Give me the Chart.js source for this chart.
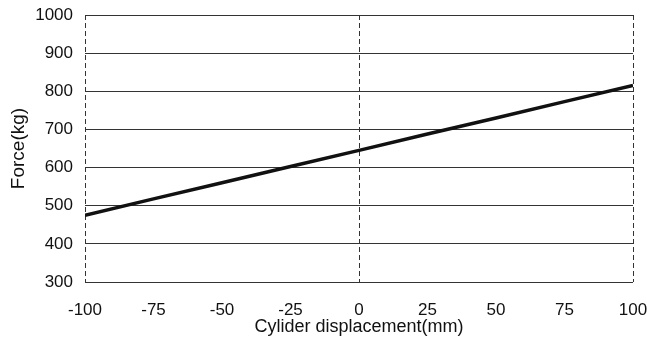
<!DOCTYPE html>
<html>
<head>
<meta charset="utf-8">
<script src="https://cdn.jsdelivr.net/npm/chart.js@4.4.1/dist/chart.umd.min.js"></script>
<style>
html,body{margin:0;padding:0;background:#fff;}
#wrap{width:647px;height:348px;position:relative;}
</style>
</head>
<body>
<div id="wrap"><canvas id="c" width="647" height="348"></canvas></div>
<script>
const displacement = [-100, -75, -50, -25, 0, 25, 50, 75, 100];
const force = [475, 518, 560, 603, 645, 688, 730, 773, 815];
const xTicks = [-100, -75, -50, -25, 0, 25, 50, 75, 100];
const yTicks = [300, 400, 500, 600, 700, 800, 900, 1000];
const xTitle = 'Cylider displacement(mm)';
const yTitle = 'Force(kg)';

const points = displacement.map((x, i) => ({x: x, y: force[i]}));

new Chart(document.getElementById('c'), {
  type: 'scatter',
  data: {
    datasets: [{
      data: points,
      showLine: true,
      borderColor: '#111',
      backgroundColor: '#111',
      borderWidth: 3.5,
      pointRadius: 0,
      tension: 0
    }]
  },
  options: {
    responsive: false,
    animation: false,
    layout: {padding: {top: 15, right: 14, bottom: 0, left: 0}},
    plugins: {legend: {display: false}, tooltip: {enabled: false}},
    scales: {
      x: {
        type: 'linear',
        min: -100, max: 100,
        afterBuildTicks: s => { s.ticks = xTicks.map(v => ({value: v})); },
        afterFit: s => { s.height = 66; s.paddingRight = 0; s.paddingLeft = 0; },
        ticks: {
          color: '#111',
          font: {family: 'Liberation Sans', size: 17},
          padding: 18,
          maxRotation: 0,
          autoSkip: false,
          callback: v => String(v)
        },
        grid: {
          drawTicks: false,
          color: c => (c.tick && (c.tick.value === 0 || c.tick.value === -100 || c.tick.value === 100)) ? '#333' : 'rgba(0,0,0,0)',
          lineWidth: 1
        },
        border: {display: false, dash: [5, 3]},
        title: {
          display: true,
          text: xTitle,
          color: '#111',
          font: {family: 'Liberation Sans', size: 18},
          padding: {top: 0, bottom: 10}
        }
      },
      y: {
        min: 300, max: 1000,
        afterBuildTicks: s => { s.ticks = yTicks.map(v => ({value: v})); },
        afterFit: s => { s.width = 85; s.paddingTop = 0; s.paddingBottom = 0; },
        ticks: {
          color: '#111',
          font: {family: 'Liberation Sans', size: 17},
          padding: 12,
          callback: v => String(v)
        },
        grid: {drawTicks: false, color: '#333', lineWidth: 1},
        border: {display: false},
        title: {
          display: true,
          text: yTitle,
          color: '#111',
          font: {family: 'Liberation Sans', size: 19},
          padding: {top: 7, bottom: 0}
        }
      }
    }
  }
});
</script>
</body>
</html>
